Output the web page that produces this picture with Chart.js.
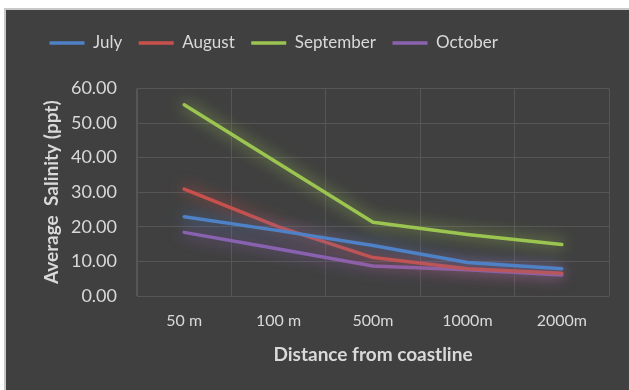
<!DOCTYPE html>
<html>
<head>
<meta charset="utf-8">
<title>Average salinity by distance from coastline</title>
<script src="https://cdn.jsdelivr.net/npm/chart.js@4/dist/chart.umd.min.js"></script>
<style>
  html, body { margin: 0; padding: 0; background: #ffffff; }
  #frame {
    position: absolute; left: 4px; top: 8px;
    width: 623px; height: 380px;
    background: #404040;
    border-left: 2px solid #c8c8c8; border-top: 2px solid #c8c8c8;
  }
  canvas { display: block; }
</style>
</head>
<body>
<div id="frame"><canvas id="chart" width="623" height="380"></canvas></div>
<script>
// Sampling distances from the coastline
const distances = ['50 m', '100 m', '500m', '1000m', '2000m'];

// Average salinity (ppt) per month
const july      = [22.9, 18.9, 14.6, 9.7, 7.9];
const august    = [30.9, 20.0, 11.1, 7.9, 6.6];
const september = [55.3, 38.3, 21.3, 17.8, 14.9];
const october   = [18.4, 13.6, 8.7, 7.6, 6.1];

// Value-axis range
const yMin = 0, yMax = 60, yStep = 10;

const textColor = '#d9d9d9';
const gridColor = '#565656';

function series(label, data, color) {
  return {
    label, data,
    borderColor: color,
    backgroundColor: color,
    borderWidth: 3.5,
    borderCapStyle: 'round',
    borderJoinStyle: 'round',
    pointRadius: 0,
    pointHoverRadius: 0,
    tension: 0,
    glow: color
  };
}

// Soft coloured halo around each line
const glowPlugin = {
  id: 'glow',
  beforeDatasetDraw(chart, args) {
    const ds = chart.data.datasets[args.index];
    const ctx = chart.ctx;
    ctx.save();
    ctx.shadowColor = ds.glow;
    ctx.shadowBlur = 15;
    ctx.shadowOffsetX = 0;
    ctx.shadowOffsetY = 0;
  },
  afterDatasetDraw(chart) {
    chart.ctx.restore();
  }
};

// Leave extra room between the legend row and the plot
const legendSpacing = {
  id: 'legendSpacing',
  afterInit(chart) {
    const legend = chart.legend;
    if (!legend) return;
    const fit = legend.fit.bind(legend);
    legend.fit = function () {
      fit();
      this.height += 27;
    };
  }
};

new Chart(document.getElementById('chart'), {
  type: 'line',
  data: {
    labels: distances,
    datasets: [
      series('July', july, '#4f81c7'),
      series('August', august, '#c9504c'),
      series('September', september, '#9bc450'),
      series('October', october, '#8a62b0')
    ]
  },
  options: {
    responsive: false,
    animation: false,
    events: [],
    layout: { padding: { left: 27, right: 20, top: 8, bottom: 0 } },
    plugins: {
      tooltip: { enabled: false },
      legend: {
        display: true,
        position: 'top',
        align: 'start',
        labels: {
          color: textColor,
          font: { family: 'Lato', size: 17 },
          usePointStyle: true,
          pointStyle: 'line',
          pointStyleWidth: 35,
          padding: 16.5
        }
      }
    },
    scales: {
      x: {
        offset: true,
        grid: { offset: true, color: gridColor, drawTicks: false },
        border: { display: false },
        ticks: {
          color: textColor,
          font: { family: 'Lato', size: 16 },
          padding: 15,
          maxRotation: 0
        },
        title: {
          display: true,
          text: 'Distance from coastline',
          color: textColor,
          font: { family: 'Lato', size: 19, weight: 'bold' },
          padding: { top: 0, bottom: 23.5 }
        },
        afterFit(scale) { scale.height = 94; }
      },
      y: {
        min: yMin,
        max: yMax,
        grid: { color: gridColor, drawTicks: false },
        border: { display: true, color: gridColor },
        ticks: {
          stepSize: yStep,
          color: textColor,
          font: { family: 'Lato', size: 18 },
          padding: 20,
          callback: v => Number(v).toFixed(2)
        },
        title: {
          display: true,
          text: 'Average  Salinity (ppt)',
          color: textColor,
          font: { family: 'Lato', size: 19, weight: 'bold' },
          padding: { top: 7.5, bottom: 0 }
        },
        afterFit(scale) { scale.width = 104; }
      }
    }
  },
  plugins: [glowPlugin, legendSpacing]
});
</script>
</body>
</html>
